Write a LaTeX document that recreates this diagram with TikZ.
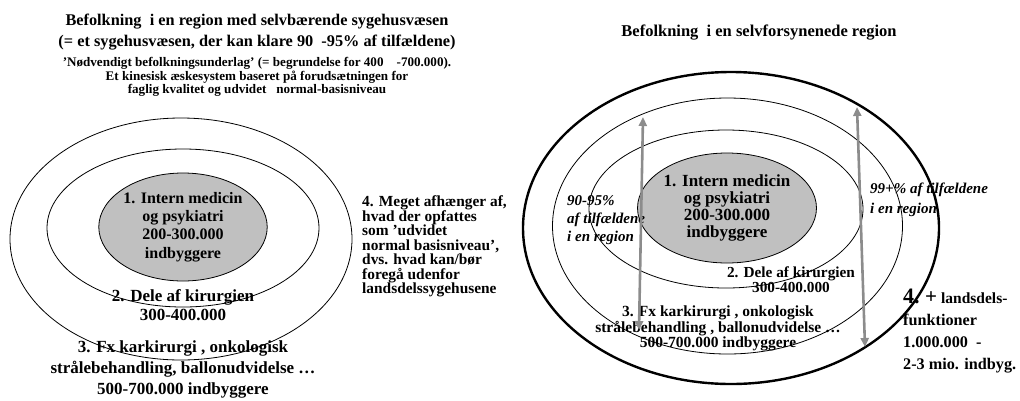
\documentclass[tikz,border=0pt]{standalone}
\usepackage{fontspec}
\setmainfont{Liberation Serif}
\usepackage{xcolor}
\usepackage{tikz}
\usetikzlibrary{positioning, arrows.meta, shapes.geometric}
\definecolor{ringgray}{RGB}{192,192,192}
\definecolor{arrowgray}{RGB}{140,140,140}

\begin{document}
\begin{tikzpicture}[
  x=1pt, y=-1pt,
  ring/.style={ellipse, draw=black, line width=0.8pt, inner sep=0pt},
  thickring/.style={ellipse, draw=black, line width=2.4pt, inner sep=0pt},
  core/.style={ellipse, draw=black, line width=0.8pt, fill=ringgray,
               inner sep=0pt, align=center},
  lbl/.style={align=center, inner sep=0pt},
  note/.style={align=left, inner sep=0pt, anchor=west},
  bigtxt/.style={font=\fontsize{16}{18.3}\selectfont\bfseries},
  midtxt/.style={font=\fontsize{17}{17}\selectfont\bfseries},
  smalltxt/.style={font=\fontsize{15.3}{15}\selectfont\bfseries},
  pcttxt/.style={font=\fontsize{15}{18}\selectfont\bfseries\itshape}
]
\useasboundingbox (0,0) rectangle (1020,400);

% Headings
\node[lbl, font=\fontsize{16.3}{21}\selectfont\bfseries] (titleL) at (257,32)
    {Befolkning\ \ i en region med selvbærende sygehusvæsen\\
     (= et sygehusvæsen, der kan klare 90\ \ -95\% af tilfældene)};
\node[lbl, font=\fontsize{13.1}{13.5}\selectfont\bfseries] (subL) at (257,77)
    {'Nødvendigt befolkningsunderlag' (= begrundelse for 400\ \ \ \ -700.000).\\
     Et kinesisk æskesystem baseret på forudsætningen for\\
     faglig kvalitet og udvidet\ \ \ normal-basisniveau};
\node[lbl, font=\fontsize{16.5}{18}\selectfont\bfseries] (titleR) at (759,33)
    {Befolkning\ \ i en selvforsynenede region};

% Left rings
\node[ring] (louter) at (181,239) [minimum width=342pt, minimum height=242pt] {};
\node[ring] (lmid)   at (183,228) [minimum width=272pt, minimum height=158pt] {};
\node[core, bigtxt] (linner) at (183,227) [minimum width=160pt, minimum height=108pt]
    {1. Intern medicin\\og psykiatri\\200-300.000\\indbyggere};

% Right rings
\node[thickring] (router) at (731,228) [minimum width=416pt, minimum height=312pt] {};
\node[ring] (rmid)   at (727.5,226) [minimum width=350pt, minimum height=256pt] {};
\node[ring] (rthird) at (726,209) [minimum width=274pt, minimum height=158pt] {};
\node[core, midtxt] (rinner) at (727,208) [minimum width=160pt, minimum height=110pt]
    {1. Intern medicin\\og psykiatri\\200-300.000\\indbyggere};

% Left labels
\node[lbl, font=\fontsize{17}{19.5}\selectfont\bfseries] (ldele) at (183,305)
    {2. Dele af kirurgien\\300-400.000};
\node[lbl, font=\fontsize{17}{21}\selectfont\bfseries] (lkar) at (183,369)
    {3. Fx karkirurgi , onkologisk\\strålebehandling, ballonudvidelse …\\500-700.000 indbyggere};
\node[note, font=\fontsize{15.4}{14.5}\selectfont\bfseries] (lnote) at (362,246.5)
    {4. Meget afhænger af,\\hvad der opfattes\\som 'udvidet\\normal basisniveau',\\dvs. hvad kan/bør\\foregå udenfor\\landsdelssygehusene};

% Right labels
\node[lbl, smalltxt] (rdele) at (791,279.5)
    {2. Dele af kirurgien\\300-400.000};
\node[lbl, font=\fontsize{15.5}{15.5}\selectfont\bfseries] (rkar) at (718,328.5)
    {3. Fx karkirurgi , onkologisk\\strålebehandling , ballonudvidelse …\\500-700.000 indbyggere};
\node[note, pcttxt] (rpctA) at (567,220)
    {90-95\%\\af tilfældene\\i en region};
\node[note, font=\fontsize{15}{20}\selectfont\bfseries\itshape] (rpctB) at (870,200)
    {99+\% af tilfældene\\i en region};
\node[note, font=\fontsize{16.2}{22}\selectfont\bfseries] (rland) at (903,331.5)
    {{\fontsize{22}{22}\selectfont 4.} {\fontsize{21}{22}\selectfont +} {\fontsize{15.5}{22}\selectfont landsdels-}\\funktioner\\1.000.000\ \ -\\2-3 mio. indbyg.};

% Arrows
\coordinate (lup) at (643,117);
\coordinate (ldn) at (639,330);
\coordinate (rup) at (857,107);
\coordinate (rdn) at (865,347);
\draw[{Triangle[length=9pt, width=8pt]}-{Triangle[length=9pt, width=8pt]},
      line width=2.6pt, draw=arrowgray] (ldn) -- (lup);
\draw[{Triangle[length=9pt, width=8pt]}-{Triangle[length=9pt, width=8pt]},
      line width=2.6pt, draw=arrowgray] (rdn) -- (rup);

\end{tikzpicture}
\end{document}
